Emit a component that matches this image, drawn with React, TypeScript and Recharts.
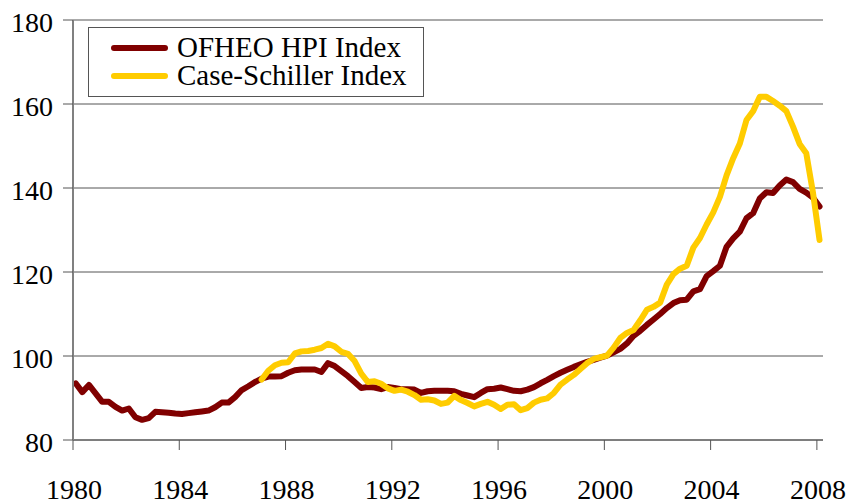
import React from 'react';
import { LineChart, Line, XAxis, YAxis, CartesianGrid, Legend } from 'recharts';

// quarterly index values, 1980Q1 .. 2008Q1
const ofheo = [
  93.5, 91.4, 93.1, 91.1, 89.1, 89.1, 87.9, 87.0, 87.5, 85.4, 84.8, 85.2,
  86.7, 86.6, 86.5, 86.3, 86.2, 86.4, 86.6, 86.8, 87.0, 87.8, 88.9, 88.9,
  90.2, 91.9, 92.8, 93.8, 94.6, 95.1, 95.1, 95.2, 96.0, 96.6, 96.8, 96.8,
  96.8, 96.2, 98.3, 97.6, 96.4, 95.2, 93.8, 92.4, 92.6, 92.5, 92.1, 92.6,
  92.4, 92.1, 92.1, 92.0, 91.2, 91.6, 91.7, 91.7, 91.7, 91.6, 91.0, 90.6,
  90.2, 91.2, 92.1, 92.2, 92.5, 92.1, 91.7, 91.6, 92.0, 92.6, 93.5, 94.3,
  95.2, 96.0, 96.7, 97.4, 98.0, 98.6, 99.1, 99.6, 100.1, 100.9, 101.7, 103.0,
  104.8, 106.0, 107.4, 108.7, 110.0, 111.4, 112.6, 113.3, 113.4, 115.4, 115.9, 119.0,
  120.2, 121.5, 126.0, 128.0, 129.6, 132.8, 134.0, 137.5, 139.0, 138.8, 140.6, 142.0,
  141.4, 139.8, 138.9, 137.7, 135.6,
];

// Case-Shiller starts in 1987Q1
const caseShillerStart = 28;
const caseShiller = [
  94.4, 96.5, 97.8, 98.4, 98.5, 100.6, 101.1, 101.2, 101.5, 101.9, 102.9, 102.3,
  101.0, 100.5, 98.8, 95.8, 93.8, 94.0, 93.4, 92.3, 91.7, 92.0, 91.5, 90.7,
  89.6, 89.7, 89.4, 88.6, 88.9, 90.5, 89.5, 88.8, 88.0, 88.6, 89.1, 88.4,
  87.4, 88.4, 88.5, 87.1, 87.6, 88.9, 89.6, 89.9, 91.2, 93.2, 94.4, 95.5,
  96.9, 98.3, 99.3, 99.7, 100.1, 102.0, 104.3, 105.5, 106.2, 108.5, 111.0, 111.7,
  112.7, 117.0, 119.5, 120.8, 121.5, 125.8, 128.1, 131.3, 134.2, 137.9, 143.0, 147.1,
  150.6, 156.2, 158.3, 161.7, 161.7, 160.7, 159.6, 158.3, 154.6, 150.5, 148.3, 139.0,
  127.6,
];

const yearTicks = [1980, 1984, 1988, 1992, 1996, 2000, 2004, 2008];
const valueTicks = [80, 100, 120, 140, 160, 180];

const firstQuarter = 1980.1;

const data = ofheo.map((v, i) => ({
  year: firstQuarter + i * 0.25,
  ofheo: v,
  cs: i >= caseShillerStart ? caseShiller[i - caseShillerStart] : null,
}));

const FONT = '"Liberation Serif", "Times New Roman", serif';
const RED = '#800000';
const YELLOW = '#FFCC00';

const LegendBox = () => (
  <div
    style={{
      width: 334,
      height: 68,
      border: '1px solid #555',
      background: '#fff',
      fontFamily: FONT,
      fontSize: 29,
      color: '#000',
      position: 'relative',
    }}
  >
    {[
      { label: 'OFHEO HPI Index', color: RED, y: 20 },
      { label: 'Case-Schiller Index', color: YELLOW, y: 48 },
    ].map((it) => (
      <div key={it.label}>
        <div
          style={{
            position: 'absolute',
            left: 22,
            top: it.y - 3,
            width: 57,
            height: 6,
            borderRadius: 3,
            background: it.color,
          }}
        />
        <div
          style={{
            position: 'absolute',
            left: 88,
            top: it.y - 15,
            lineHeight: '28px',
            whiteSpace: 'nowrap',
          }}
        >
          {it.label}
        </div>
      </div>
    ))}
  </div>
);

export default function App() {
  return (
    <div style={{ position: 'absolute', left: 0, top: 0, width: 848, height: 504, background: '#fff' }}>
      <LineChart
        width={848}
        height={504}
        data={data}
        margin={{ top: 20, right: 25, bottom: 4, left: 0 }}
      >
        <CartesianGrid vertical={false} stroke="#555" strokeWidth={1} />
        <XAxis
          dataKey="year"
          type="number"
          domain={[1980, 2008.23]}
          ticks={yearTicks}
          interval={0}
          allowDataOverflow
          height={60}
          tickSize={10}
          tickMargin={29}
          axisLine={{ stroke: '#555', strokeWidth: 1 }}
          tickLine={{ stroke: '#555', strokeWidth: 1 }}
          tick={{ fill: '#000', fontSize: 28, fontFamily: FONT, dx: 1 }}
        />
        <YAxis
          type="number"
          domain={[80, 180]}
          ticks={valueTicks}
          interval={0}
          width={73}
          tickSize={10}
          tickMargin={10}
          axisLine={{ stroke: '#808080', strokeWidth: 2 }}
          tickLine={{ stroke: '#555', strokeWidth: 1 }}
          tick={{ fill: '#000', fontSize: 28, fontFamily: FONT, dy: 2 }}
        />
        <Legend
          verticalAlign="middle"
          align="center"
          layout="vertical"
          content={() => <LegendBox />}
          wrapperStyle={{ left: 88, top: 27, width: 336 }}
        />
        <Line
          type="linear"
          dataKey="ofheo"
          name="OFHEO HPI Index"
          stroke={RED}
          strokeWidth={6}
          strokeLinejoin="round"
          strokeLinecap="round"
          dot={false}
          isAnimationActive={false}
        />
        <Line
          type="linear"
          dataKey="cs"
          name="Case-Schiller Index"
          stroke={YELLOW}
          strokeWidth={6}
          strokeLinejoin="round"
          strokeLinecap="round"
          dot={false}
          connectNulls={false}
          isAnimationActive={false}
        />
      </LineChart>
    </div>
  );
}
